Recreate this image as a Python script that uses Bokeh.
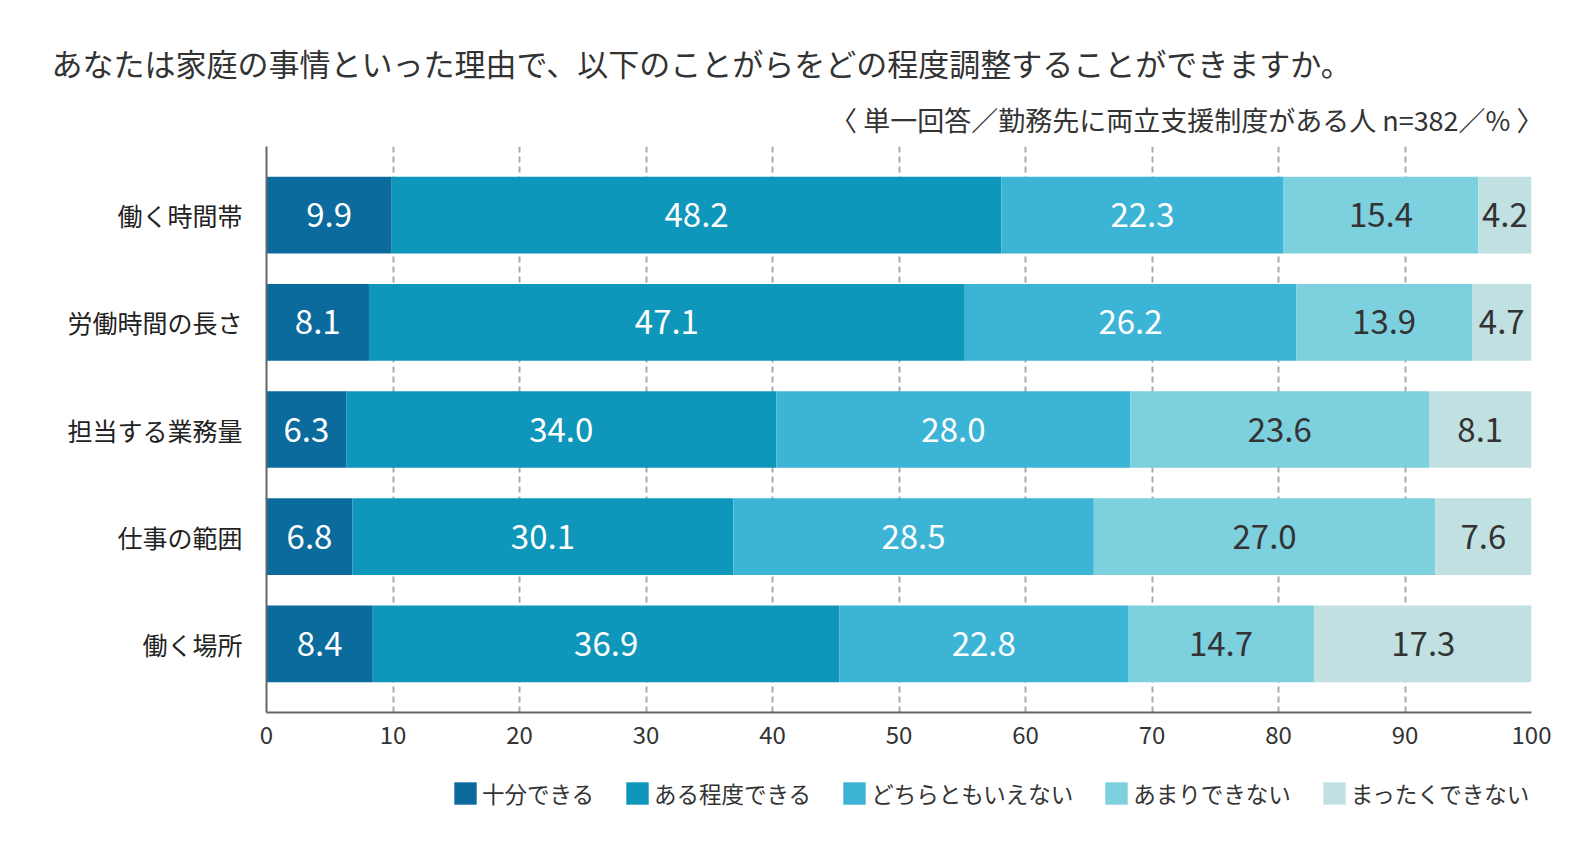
import numpy as np
from bokeh.plotting import figure
from bokeh.layouts import column
from bokeh.models import ColumnDataSource, FactorRange, FixedTicker, Title, Legend, LegendItem, Range1d
from bokeh.core.properties import value
from bokeh.embed import file_html
from bokeh.resources import INLINE

categories = ["働く時間帯", "労働時間の長さ", "担当する業務量", "仕事の範囲", "働く場所"]
series_names = ["十分できる", "ある程度できる", "どちらともいえない", "あまりできない", "まったくできない"]
s1 = [9.9, 8.1, 6.3, 6.8, 8.4]
s2 = [48.2, 47.1, 34.0, 30.1, 36.9]
s3 = [22.3, 26.2, 28.0, 28.5, 22.8]
s4 = [15.4, 13.9, 23.6, 27.0, 14.7]
s5 = [4.2, 4.7, 8.1, 7.6, 17.3]
x_ticks = [0, 10, 20, 30, 40, 50, 60, 70, 80, 90, 100]

colors = ["#0b6b9d", "#0e96bb", "#3cb4d5", "#7dd0de", "#c0e0e1"]
label_colors = ["#ffffff", "#ffffff", "#ffffff", "#333333", "#333333"]
FONT = "Noto Sans CJK JP"

series = [s1, s2, s3, s4, s5]

p = figure(
    width=1564, height=762,
    y_range=FactorRange(factors=categories[::-1], range_padding=0.14, range_padding_units="absolute"),
    x_range=Range1d(0, 100),
    output_backend="svg", toolbar_location=None,
    min_border_left=266, min_border_right=33, min_border_top=146, min_border_bottom=50,
    title=None,
)
p.outline_line_color = None

sub = Title(text="〈 単一回答／勤務先に両立支援制度がある人 n=382／% 〉", align="right",
            text_font=FONT, text_font_size="27px", text_font_style="normal",
            text_color="#333333", standoff=16, offset=-12)
ttl = Title(text="あなたは家庭の事情といった理由で、以下のことがらをどの程度調整することができますか。",
            align="left", text_font=FONT, text_font_size="31px", text_font_style="normal",
            text_color="#333333", standoff=9, offset=-215)
p.add_layout(sub, "above")
p.add_layout(ttl, "above")

left = np.zeros(len(categories))
for name, vals, col, lc in zip(series_names, series, colors, label_colors):
    vals = np.array(vals)
    right = left + vals
    src = ColumnDataSource(dict(y=categories, left=left, right=right,
                                mid=(left + right) / 2,
                                lab=[f"{v:.1f}" for v in vals]))
    p.hbar(y="y", left="left", right="right", height=0.715, source=src,
           fill_color=col, line_color=None)
    p.text(x="mid", y="y", text="lab", source=src, text_align="center",
           text_baseline="middle", text_font=value(FONT), text_font_size="33px",
           text_color=lc)
    left = right

p.xaxis.ticker = FixedTicker(ticks=x_ticks)
p.xaxis.major_tick_line_color = None
p.xaxis.minor_tick_line_color = None
p.xaxis.major_label_standoff = 7
p.xaxis.major_label_text_font = FONT
p.xaxis.major_label_text_font_size = "24px"
p.xaxis.major_label_text_color = "#333333"
p.xaxis.axis_line_color = "#666666"
p.xaxis.axis_line_width = 2

p.yaxis.major_tick_line_color = None
p.yaxis.minor_tick_line_color = None
p.yaxis.major_label_standoff = 18
p.yaxis.major_label_text_font = FONT
p.yaxis.major_label_text_font_size = "25px"
p.yaxis.major_label_text_color = "#222222"
p.yaxis.axis_line_color = "#666666"
p.yaxis.axis_line_width = 2

p.ygrid.grid_line_color = None
p.xgrid.ticker = FixedTicker(ticks=x_ticks[1:])
p.xgrid.grid_line_color = "#aaaaaa"
p.xgrid.grid_line_width = 2
p.xgrid.grid_line_dash = "6 4"

# legend strip (proxy glyphs sit outside the visible range; only their legend swatches show)
pl = figure(width=1564, height=70, x_range=Range1d(0, 1), y_range=Range1d(0, 1),
            x_axis_location=None, y_axis_location=None,
            min_border_left=266, min_border_right=33, min_border_top=0, min_border_bottom=0,
            output_backend="svg", toolbar_location=None)
pl.outline_line_color = None
pl.grid.grid_line_color = None
items = []
for name, col in zip(series_names, colors):
    r = pl.hbar(y=[-5], left=[0], right=[1], height=0.5, fill_color=col, line_color=None)
    items.append(LegendItem(label=name, renderers=[r]))
legend = Legend(items=items, orientation="horizontal", location=(185, 23),
                label_text_font=FONT, label_text_font_size="22.5px", label_text_color="#333333",
                glyph_width=28, glyph_height=28, label_standoff=3, spacing=29,
                border_line_alpha=0, background_fill_alpha=0, padding=0, margin=0)
legend.label_height = 28
pl.add_layout(legend, "center")

layout = column(p, pl, spacing=0)
open("out.html", "w").write(file_html(layout, INLINE))
